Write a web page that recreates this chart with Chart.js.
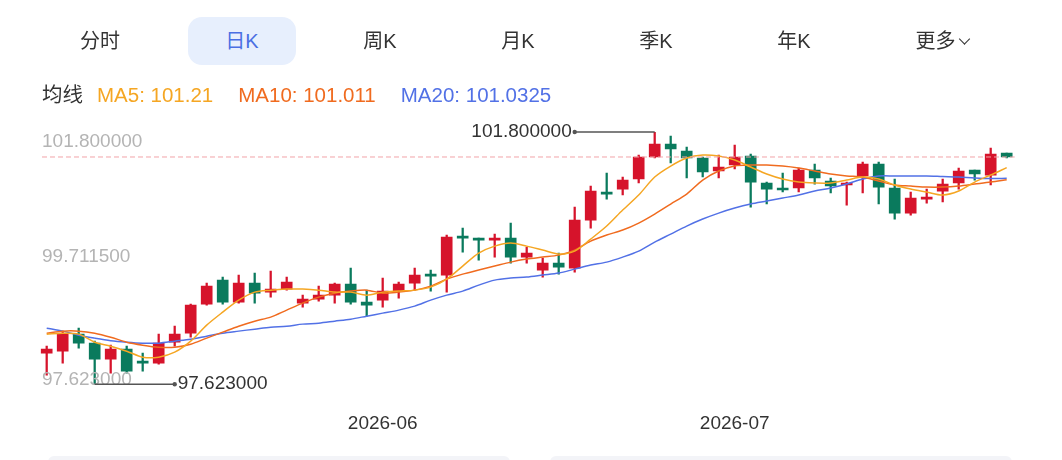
<!DOCTYPE html>
<html>
<head>
<meta charset="utf-8">
<script src="https://cdn.jsdelivr.net/npm/chart.js@4.4.1/dist/chart.umd.min.js"></script>
<style>
body{margin:0;width:1062px;height:460px;background:#fff;overflow:hidden;position:relative;font-family:"Liberation Sans","Noto Sans CJK SC",sans-serif}
#chart{position:absolute;left:0;top:0}
.tab{position:absolute;top:17px;height:48px;line-height:48px;font-size:20px;color:#333;transform:translateX(-50%);white-space:nowrap;z-index:2}
.tab.on{width:108px;text-align:center;background:#e7effd;border-radius:14px;color:#4a6fe3}
.chev{display:inline-block;width:7px;height:7px;border-right:1.6px solid #333;border-bottom:1.6px solid #333;transform:rotate(45deg);margin-left:5px;position:relative;top:-5px}
#legend{position:absolute;left:42px;top:78px;font-size:20.5px;white-space:nowrap;z-index:2}
#legend span{margin-right:25px}
.card{position:absolute;top:456px;height:12px;background:#f3f4f8;border-radius:7px;z-index:2}
</style>
</head>
<body>
<canvas id="chart" width="1062" height="463"></canvas>
<div class="tab" style="left:100px">分时</div>
<div class="tab on" style="left:242px">日K</div>
<div class="tab" style="left:380px">周K</div>
<div class="tab" style="left:518px">月K</div>
<div class="tab" style="left:656px">季K</div>
<div class="tab" style="left:794px">年K</div>
<div class="tab" style="left:942px">更多<span class="chev"></span></div>
<div id="legend"></div>
<div class="card" style="left:48px;width:462px"></div>
<div class="card" style="left:550px;width:462px"></div>
<script>
// 交易日
const dates = [
  '2026-05-01','2026-05-04','2026-05-05','2026-05-06','2026-05-07','2026-05-08',
  '2026-05-11','2026-05-12','2026-05-13','2026-05-14','2026-05-15',
  '2026-05-18','2026-05-19','2026-05-20','2026-05-21','2026-05-22',
  '2026-05-25','2026-05-26','2026-05-27','2026-05-28','2026-05-29',
  '2026-06-01','2026-06-02','2026-06-03','2026-06-04','2026-06-05',
  '2026-06-08','2026-06-09','2026-06-10','2026-06-11','2026-06-12',
  '2026-06-15','2026-06-16','2026-06-17','2026-06-18','2026-06-19',
  '2026-06-22','2026-06-23','2026-06-24','2026-06-25','2026-06-26',
  '2026-06-29','2026-06-30',
  '2026-07-01','2026-07-02','2026-07-03',
  '2026-07-06','2026-07-07','2026-07-08','2026-07-09','2026-07-10',
  '2026-07-13','2026-07-14','2026-07-15','2026-07-16','2026-07-17',
  '2026-07-20','2026-07-21','2026-07-22','2026-07-23','2026-07-24'
];

const open = [98.137,98.170,98.452,98.303,98.038,98.203,97.988,97.971,98.319,98.468,
  98.949,99.347,98.982,99.297,99.148,99.198,98.966,99.032,99.098,99.281,
  98.982,99.015,99.165,99.297,99.430,99.430,100.076,100.027,100.010,100.043,
  99.728,99.513,99.629,99.546,100.341,100.806,100.855,101.021,101.386,101.601,
  101.485,101.369,101.154,101.253,101.402,100.955,100.855,100.872,101.170,100.988,
  100.922,101.071,101.270,100.872,100.457,100.689,100.822,100.955,101.170,101.087,
  101.452];
const high = [98.253,98.502,98.551,98.336,98.270,98.253,98.137,98.452,98.584,98.949,
  99.297,99.397,99.430,99.463,99.496,99.397,99.098,99.247,99.297,99.546,
  99.181,99.380,99.314,99.546,99.513,100.093,100.209,100.043,100.109,100.292,
  99.894,99.712,99.794,100.557,100.905,101.120,101.054,101.419,101.800,101.734,
  101.551,101.386,101.419,101.585,101.435,100.971,101.120,101.203,101.270,101.038,
  100.971,101.303,101.303,101.021,100.806,100.855,101.021,101.203,101.170,101.535,
  101.452];
const low = [97.772,97.971,98.220,97.623,97.805,97.805,97.839,97.955,98.253,98.402,
  98.933,98.949,98.966,98.966,99.065,99.181,98.899,98.999,98.966,98.949,
  98.750,98.899,99.049,99.181,99.165,99.148,99.811,99.678,99.728,99.629,
  99.629,99.397,99.446,99.479,100.209,100.689,100.756,100.955,101.369,101.286,
  101.038,101.054,101.038,101.187,100.557,100.607,100.806,100.806,100.938,100.789,
  100.590,100.789,100.607,100.358,100.424,100.623,100.640,100.855,101.004,100.922,
  101.369];
const close = [98.203,98.452,98.303,98.038,98.203,97.839,97.971,98.303,98.452,98.933,
  99.247,98.982,99.297,99.131,99.198,99.314,99.032,99.098,99.281,98.982,
  98.933,99.165,99.281,99.430,99.413,100.060,100.043,100.010,100.027,99.728,
  99.794,99.629,99.562,100.341,100.822,100.772,101.004,101.386,101.601,101.518,
  101.369,101.137,101.220,101.386,100.971,100.855,100.839,101.170,101.038,100.905,
  100.955,101.270,100.888,100.457,100.706,100.723,100.938,101.154,101.104,101.435,
  101.386];

const ma5 = [98.452,98.468,98.452,98.319,98.253,98.170,98.071,98.071,98.153,98.336,
  98.601,98.816,99.015,99.148,99.181,99.198,99.198,99.181,99.148,99.148,
  99.098,99.148,99.165,99.181,99.231,99.363,99.579,99.794,99.910,99.960,
  99.910,99.844,99.778,99.828,100.026,100.242,100.507,100.756,101.054,101.236,
  101.369,101.419,101.402,101.336,101.220,101.104,101.021,100.971,100.955,100.955,
  101.004,101.054,101.021,100.922,100.855,100.805,100.756,100.822,100.971,101.087,
  101.21];
const ma10 = [98.468,98.502,98.502,98.468,98.402,98.319,98.270,98.236,98.236,98.286,
  98.386,98.485,98.584,98.667,98.734,98.850,98.966,99.065,99.131,99.165,
  99.181,99.131,99.148,99.181,99.247,99.363,99.446,99.513,99.579,99.645,
  99.695,99.728,99.761,99.844,99.993,100.093,100.176,100.292,100.441,100.607,
  100.772,101.004,101.154,101.236,101.253,101.253,101.236,101.203,101.154,101.104,
  101.071,101.054,100.988,100.922,100.905,100.888,100.888,100.905,100.938,100.971,
  101.011];
const ma20 = [98.551,98.502,98.435,98.386,98.344,98.319,98.303,98.303,98.336,98.369,
  98.419,98.468,98.502,98.535,98.568,98.584,98.618,98.634,98.667,98.700,
  98.750,98.800,98.850,98.916,99.015,99.098,99.165,99.264,99.347,99.380,
  99.397,99.430,99.463,99.529,99.596,99.645,99.728,99.828,99.977,100.109,
  100.242,100.358,100.457,100.540,100.607,100.656,100.706,100.756,100.822,100.872,
  100.938,101.021,101.071,101.071,101.071,101.071,101.062,101.054,101.038,101.029,
  101.0325];

const yMin = 97.623;
const yMax = 101.8;
const yMid = 99.7115;

const UP = '#d6132b';
const DOWN = '#0a7a5d';
const C5 = '#f5a623';
const C10 = '#f06b1f';
const C20 = '#5271e6';
const FONT = '"Liberation Sans","Noto Sans CJK SC",sans-serif';

document.getElementById('legend').innerHTML =
  '<span style="color:#333;margin-right:14px">均线</span>' +
  '<span style="color:' + C5 + '">MA5: 101.21</span>' +
  '<span style="color:' + C10 + '">MA10: 101.011</span>' +
  '<span style="color:' + C20 + '">MA20: 101.0325</span>';

const candleColor = ctx => close[ctx.dataIndex] >= open[ctx.dataIndex] ? UP : DOWN;

// 坐标标签、最高最低标注、最新价虚线
const marks = {
  id: 'marks',
  afterDatasetsDraw(chart) {
    const c = chart.ctx, x = chart.scales.x, y = chart.scales.y, a = chart.chartArea;
    c.save();
    // 最新价
    const yl = y.getPixelForValue(close[close.length - 1]);
    c.strokeStyle = '#f2a3a8';
    c.lineWidth = 1;
    c.setLineDash([5, 3]);
    c.beginPath(); c.moveTo(42, yl); c.lineTo(a.right, yl); c.stroke();
    c.setLineDash([]);

    c.font = '19px ' + FONT;
    c.textBaseline = 'middle';
    c.textAlign = 'left';
    c.fillStyle = '#b4b4b4';
    c.fillText(yMax.toFixed(6), 42, y.getPixelForValue(yMax) + 10);
    c.fillText(yMid.toFixed(6), 42, y.getPixelForValue(yMid) - 1);
    c.fillText(yMin.toFixed(6), 42, y.getPixelForValue(yMin) - 4);

    const hi = high.indexOf(Math.max(...high));
    const lo = low.indexOf(Math.min(...low));
    c.strokeStyle = '#555';
    c.fillStyle = '#555';
    c.lineWidth = 1.5;
    let px = x.getPixelForValue(hi), py = y.getPixelForValue(high[hi]);
    c.beginPath(); c.moveTo(px, py); c.lineTo(px - 80, py); c.stroke();
    c.beginPath(); c.arc(px - 80, py, 2.2, 0, Math.PI * 2); c.fill();
    c.fillStyle = '#333';
    c.textAlign = 'right';
    c.fillText(high[hi].toFixed(6), px - 83, py);

    px = x.getPixelForValue(lo); py = y.getPixelForValue(low[lo]);
    c.fillStyle = '#555';
    c.beginPath(); c.moveTo(px, py); c.lineTo(px + 80, py); c.stroke();
    c.beginPath(); c.arc(px + 80, py, 2.2, 0, Math.PI * 2); c.fill();
    c.fillStyle = '#333';
    c.textAlign = 'left';
    c.fillText(low[lo].toFixed(6), px + 83, py);
    c.restore();
  }
};

new Chart(document.getElementById('chart'), {
  type: 'bar',
  data: {
    labels: dates,
    datasets: [
      { type: 'line', label: 'MA5', data: ma5, borderColor: C5, borderWidth: 1.5, pointRadius: 0, tension: 0.3, order: 0 },
      { type: 'line', label: 'MA10', data: ma10, borderColor: C10, borderWidth: 1.5, pointRadius: 0, tension: 0.3, order: 0 },
      { type: 'line', label: 'MA20', data: ma20, borderColor: C20, borderWidth: 1.5, pointRadius: 0, tension: 0.3, order: 0 },
      { label: 'body', data: open.map((o, i) => [o, close[i]]), backgroundColor: candleColor,
        barThickness: 11, minBarLength: 2, grouped: false, order: 1 },
      { label: 'wick', data: low.map((l, i) => [l, high[i]]), backgroundColor: candleColor,
        barThickness: 1.6, grouped: false, order: 2 }
    ]
  },
  options: {
    responsive: false,
    animation: false,
    devicePixelRatio: 1,
    layout: { padding: { left: 38.7, right: 47.3, top: 132, bottom: 0 } },
    plugins: { legend: { display: false }, tooltip: { enabled: false } },
    scales: {
      x: {
        offset: true,
        grid: { display: false, drawTicks: false },
        border: { display: false },
        ticks: {
          autoSkip: false, maxRotation: 0, padding: 28, color: '#333',
          font: { size: 19, family: FONT },
          callback: (v, i) => (i > 0 && dates[i].slice(0, 7) !== dates[i - 1].slice(0, 7)) ? dates[i].slice(0, 7) : ''
        }
      },
      y: { display: false, min: yMin, max: yMax }
    }
  },
  plugins: [marks]
});
</script>
</body>
</html>
